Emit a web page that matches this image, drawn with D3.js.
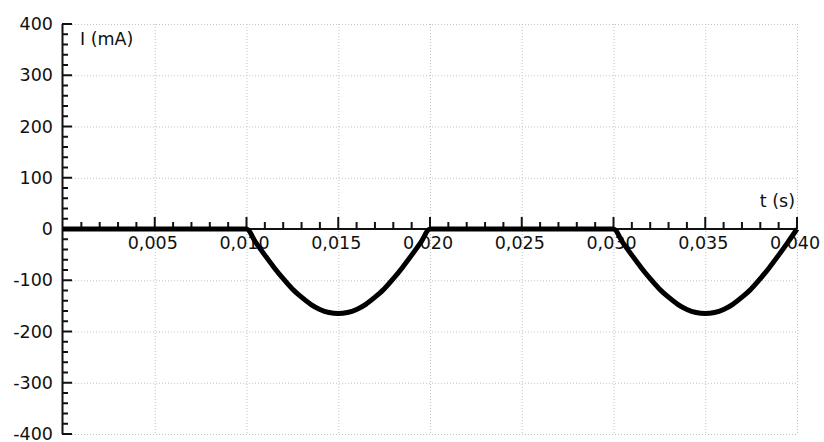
<!DOCTYPE html>
<html>
<head>
<meta charset="utf-8">
<script src="https://cdn.jsdelivr.net/npm/d3@7"></script>
<style>
  html, body { margin: 0; padding: 0; background: #fff; }
  text { font-family: "DejaVu Sans", Verdana, sans-serif; fill: #111; }
</style>
</head>
<body>
<svg id="chart" width="824" height="442"></svg>
<script>
// values: time in s, current in mA
let tValues = [0, 0.010,
    0.0105, 0.011, 0.0115, 0.012, 0.0125, 0.013, 0.0135, 0.014, 0.0145, 0.015,
    0.0155, 0.016, 0.0165, 0.017, 0.0175, 0.018, 0.0185, 0.019, 0.0195, 0.020,
    0.030,
    0.0305, 0.031, 0.0315, 0.032, 0.0325, 0.033, 0.0335, 0.034, 0.0345, 0.035,
    0.0355, 0.036, 0.0365, 0.037, 0.0375, 0.038, 0.0385, 0.039, 0.0395, 0.040];
let iValues = [0, 0,
    -26, -51, -75, -97, -117, -133, -147, -157, -163, -165,
    -163, -157, -147, -133, -117, -97, -75, -51, -26, 0,
    0,
    -26, -51, -75, -97, -117, -133, -147, -157, -163, -165,
    -163, -157, -147, -133, -117, -97, -75, -51, -26, 0];
let xTicks = [0.005, 0.010, 0.015, 0.020, 0.025, 0.030, 0.035, 0.040];
let yTicks = [-400, -300, -200, -100, 0, 100, 200, 300, 400];

let svg = d3.select("#chart");
let x = d3.scaleLinear().domain([0, 0.04]).range([63, 797]);
let y = d3.scaleLinear().domain([-400, 400]).range([434, 24]);

// grid
let grid = svg.append("g")
    .attr("stroke", "#c4c4c4")
    .attr("stroke-width", 1)
    .attr("stroke-dasharray", "1,2");
grid.selectAll("line.v").data(xTicks).enter().append("line")
    .attr("x1", d => x(d) + 0.5).attr("x2", d => x(d) + 0.5)
    .attr("y1", y(400)).attr("y2", y(-400));
grid.selectAll("line.h").data(yTicks).enter().append("line")
    .attr("x1", x(0)).attr("x2", x(0.04))
    .attr("y1", d => y(d) + 0.5).attr("y2", d => y(d) + 0.5);

// y axis with minor ticks
let yMinor = d3.range(-400, 401, 20).filter(v => v % 100 !== 0);
let yAxis = svg.append("g").attr("stroke", "#111").attr("stroke-width", 2);
yAxis.append("line")
    .attr("x1", x(0) - 0.5).attr("x2", x(0) - 0.5)
    .attr("y1", y(400)).attr("y2", y(-400));
yAxis.selectAll("line.major").data(yTicks).enter().append("line")
    .attr("x1", x(0) - 1).attr("x2", x(0) + 9)
    .attr("y1", d => y(d)).attr("y2", d => y(d));
yAxis.selectAll("line.minor").data(yMinor).enter().append("line")
    .attr("x1", x(0) - 1).attr("x2", x(0) + 5)
    .attr("y1", d => y(d)).attr("y2", d => y(d));
svg.append("g").selectAll("text").data(yTicks).enter().append("text")
    .attr("x", 53).attr("y", d => y(d))
    .attr("dy", "0.35em")
    .attr("text-anchor", "end")
    .attr("font-size", "17.5px")
    .text(d => d);

// x axis with minor ticks
let xMinor = d3.range(1, 40).filter(v => v % 5 !== 0).map(v => v / 1000);
let xAxis = svg.append("g").attr("stroke", "#111").attr("stroke-width", 2);
xAxis.append("line")
    .attr("x1", x(0)).attr("x2", x(0.04))
    .attr("y1", y(0)).attr("y2", y(0));
xAxis.selectAll("line.major").data(xTicks).enter().append("line")
    .attr("x1", d => x(d)).attr("x2", d => x(d))
    .attr("y1", y(0)).attr("y2", y(0) - 12);
xAxis.selectAll("line.minor").data(xMinor).enter().append("line")
    .attr("x1", d => x(d)).attr("x2", d => x(d))
    .attr("y1", y(0)).attr("y2", y(0) - 7);
let fmt = d3.format(".3f");
svg.append("g").selectAll("text").data(xTicks).enter().append("text")
    .attr("x", d => x(d) - 2).attr("y", y(0) + 20)
    .attr("text-anchor", "middle")
    .attr("font-size", "17.5px")
    .text(d => fmt(d).replace(".", ","));

// axis titles
svg.append("text").attr("x", 80).attr("y", 45)
    .attr("font-size", "17.5px").text("I (mA)");
svg.append("text").attr("x", 795).attr("y", 207)
    .attr("text-anchor", "end")
    .attr("font-size", "17.5px").text("t (s)");

// current curve
let line = d3.line()
    .x((d, i) => x(tValues[i]))
    .y(d => y(d))
    .curve(d3.curveMonotoneX);
svg.append("path")
    .attr("d", line(iValues))
    .attr("fill", "none")
    .attr("stroke", "#000")
    .attr("stroke-width", 5)
    .attr("stroke-linejoin", "round");
</script>
</body>
</html>
